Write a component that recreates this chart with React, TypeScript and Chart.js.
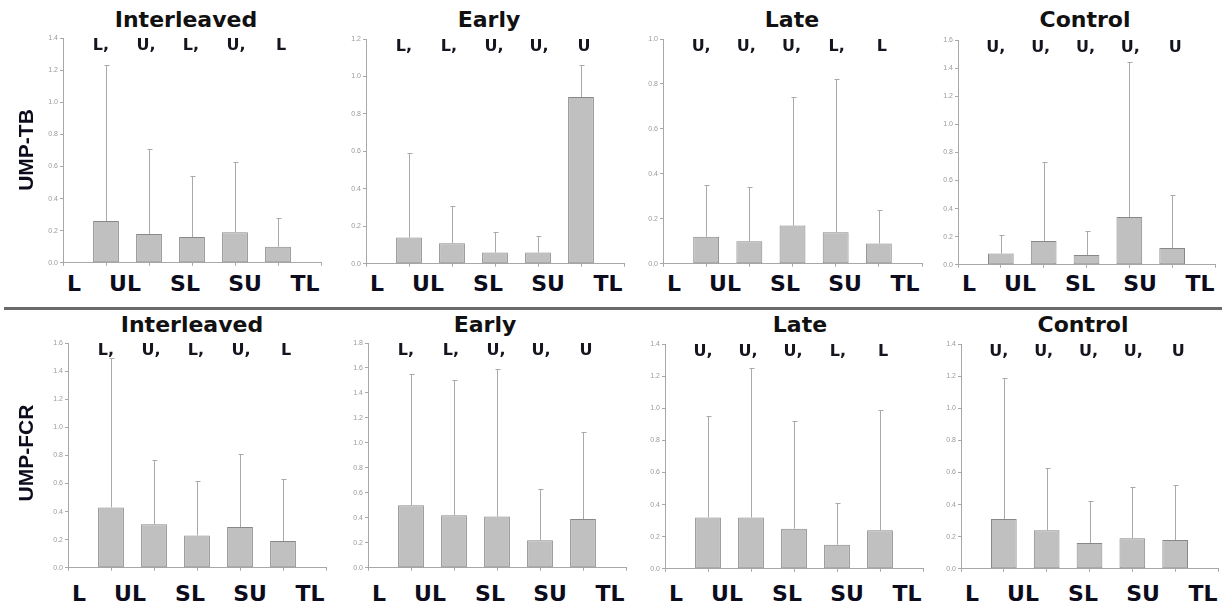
import React, { useEffect, useRef } from 'react';
import { Chart, registerables } from 'chart.js';

Chart.register(...registerables);

// ---------- data ----------
const categories = ['L', 'UL', 'SL', 'SU', 'TL'];
const groups = ['Interleaved', 'Early', 'Late', 'Control'];
const measures = ['UMP-TB', 'UMP-FCR'];

const tbInterleavedMean = [0.26, 0.18, 0.16, 0.19, 0.10];
const tbInterleavedUpper = [1.23, 0.71, 0.54, 0.63, 0.28];
const tbEarlyMean = [0.14, 0.11, 0.06, 0.06, 0.89];
const tbEarlyUpper = [0.59, 0.31, 0.17, 0.15, 1.06];
const tbLateMean = [0.12, 0.10, 0.17, 0.14, 0.09];
const tbLateUpper = [0.35, 0.34, 0.74, 0.82, 0.24];
const tbControlMean = [0.08, 0.17, 0.07, 0.34, 0.12];
const tbControlUpper = [0.21, 0.73, 0.24, 1.44, 0.50];

const fcrInterleavedMean = [0.43, 0.31, 0.23, 0.29, 0.19];
const fcrInterleavedUpper = [1.49, 0.77, 0.62, 0.81, 0.63];
const fcrEarlyMean = [0.50, 0.42, 0.41, 0.22, 0.39];
const fcrEarlyUpper = [1.55, 1.50, 1.59, 0.63, 1.09];
const fcrLateMean = [0.32, 0.32, 0.25, 0.15, 0.24];
const fcrLateUpper = [0.95, 1.25, 0.92, 0.41, 0.99];
const fcrControlMean = [0.31, 0.24, 0.16, 0.19, 0.18];
const fcrControlUpper = [1.19, 0.63, 0.42, 0.51, 0.52];

const interleavedMarks = ['L,', 'U,', 'L,', 'U,', 'L'];
const earlyMarks = ['L,', 'L,', 'U,', 'U,', 'U'];
const lateMarks = ['U,', 'U,', 'U,', 'L,', 'L'];
const controlMarks = ['U,', 'U,', 'U,', 'U,', 'U'];

const tbYMax = [1.4, 1.2, 1.0, 1.6];
const fcrYMax = [1.6, 1.8, 1.4, 1.4];

// ---------- layout (pixel geometry of each panel) ----------
// axisX, plotTop, plotBottom, plotRight, titleCx, titleCy, labelsCy
const panelLayout = [
  [63, 38, 263, 321, 186, 20, 284],
  [366, 39, 264, 624, 489, 20, 284],
  [663, 39, 264, 922, 792, 20, 284],
  [958, 40, 265, 1215, 1085, 20, 284],
  [68, 343, 568, 326, 192, 325, 594],
  [368, 343, 568, 626, 485, 325, 594],
  [665, 344, 569, 923, 800, 325, 594],
  [961, 344, 569, 1218, 1083, 325, 594],
];
const bottomLabelOffsets = [11, 62, 122, 182, 242];

const panelData = [
  { mean: tbInterleavedMean, upper: tbInterleavedUpper, marks: interleavedMarks, max: tbYMax[0], title: groups[0] },
  { mean: tbEarlyMean, upper: tbEarlyUpper, marks: earlyMarks, max: tbYMax[1], title: groups[1] },
  { mean: tbLateMean, upper: tbLateUpper, marks: lateMarks, max: tbYMax[2], title: groups[2] },
  { mean: tbControlMean, upper: tbControlUpper, marks: controlMarks, max: tbYMax[3], title: groups[3] },
  { mean: fcrInterleavedMean, upper: fcrInterleavedUpper, marks: interleavedMarks, max: fcrYMax[0], title: groups[0] },
  { mean: fcrEarlyMean, upper: fcrEarlyUpper, marks: earlyMarks, max: fcrYMax[1], title: groups[1] },
  { mean: fcrLateMean, upper: fcrLateUpper, marks: lateMarks, max: fcrYMax[2], title: groups[2] },
  { mean: fcrControlMean, upper: fcrControlUpper, marks: controlMarks, max: fcrYMax[3], title: groups[3] },
];

const Y_AXIS_W = 40;
const TOP_PAD = 30;
const X_AXIS_H = 6;
const RIGHT_PAD = 3;

function Panel({ idx }: { idx: number }) {
  const ref = useRef<HTMLCanvasElement | null>(null);
  const d = panelData[idx];
  const [axisX, plotTop, plotBottom, plotRight] = panelLayout[idx];
  const w = plotRight - axisX + Y_AXIS_W + RIGHT_PAD;
  const h = plotBottom - plotTop + TOP_PAD + X_AXIS_H;

  useEffect(() => {
    if (!ref.current) return;
    const extras = {
      id: 'extras',
      afterDatasetsDraw(chart: any) {
        const { ctx, chartArea, scales } = chart;
        const x = scales.x;
        const y = scales.y;
        const meta = chart.getDatasetMeta(0);
        ctx.save();
        ctx.strokeStyle = '#a9a9a9';
        ctx.lineWidth = 1;
        meta.data.forEach((bar: any, i: number) => {
          const px = Math.round(bar.x) + 0.5;
          const top = Math.round(y.getPixelForValue(d.upper[i])) + 0.5;
          ctx.beginPath();
          ctx.moveTo(px, bar.y);
          ctx.lineTo(px, top);
          ctx.moveTo(px - 2, top);
          ctx.lineTo(px + 3, top);
          ctx.stroke();
        });
        ctx.fillStyle = '#15151f';
        ctx.font = 'bold 16px "DejaVu Sans"';
        ctx.textAlign = 'center';
        ctx.textBaseline = 'middle';
        d.marks.forEach((m: string, i: number) => {
          const px = x.getPixelForValue(i + 1) + 2 * i - 5;
          ctx.fillText(m, px, chartArea.top + 8);
        });
        ctx.restore();
      },
    };
    const chart = new Chart(ref.current, {
      type: 'bar',
      data: {
        datasets: [
          {
            data: categories.map((c, i) => ({ x: i + 1, y: d.mean[i] })),
            backgroundColor: '#c0c0c0',
            borderColor: '#888888',
            borderWidth: 1,
            borderSkipped: false,
            barPercentage: 0.6,
            categoryPercentage: 1,
          },
        ],
      },
      options: {
        animation: false,
        responsive: false,
        maintainAspectRatio: false,
        devicePixelRatio: 1,
        layout: { padding: { top: TOP_PAD, right: RIGHT_PAD, left: 0, bottom: 0 } },
        plugins: { legend: { display: false }, tooltip: { enabled: false }, title: { display: false } },
        scales: {
          x: {
            type: 'linear',
            offset: false,
            min: 0,
            max: 6,
            ticks: { display: false, stepSize: 1 },
            grid: { drawOnChartArea: false, tickLength: 3, color: '#a8a8a8', offset: false },
            border: { display: true, color: '#a8a8a8' },
            afterFit: (s: any) => { s.height = X_AXIS_H; },
          },
          y: {
            min: 0,
            max: d.max,
            ticks: {
              stepSize: 0.2,
              font: { size: 7, family: '"Liberation Sans"' },
              color: '#9a9a9a',
              padding: 2,
              callback: (v: any) => Number(v).toFixed(1),
            },
            grid: { drawOnChartArea: false, tickLength: 3, color: '#a8a8a8' },
            border: { display: true, color: '#a8a8a8' },
            afterFit: (s: any) => { s.width = Y_AXIS_W; },
          },
        },
      },
      plugins: [extras],
    });
    return () => chart.destroy();
  }, [idx]);

  return (
    <canvas
      ref={ref}
      width={w}
      height={h}
      style={{ position: 'absolute', left: axisX - Y_AXIS_W, top: plotTop - TOP_PAD, width: w, height: h }}
    />
  );
}

const textCenter: React.CSSProperties = {
  position: 'absolute',
  transform: 'translate(-50%, -50%)',
  whiteSpace: 'nowrap',
  lineHeight: 1,
};

export default function App() {
  return (
    <div
      style={{
        position: 'fixed',
        left: 0,
        top: 0,
        width: 1222,
        height: 607,
        background: '#ffffff',
        overflow: 'hidden',
      }}
    >
      {panelData.map((d, i) => {
        const [axisX, , , , tcx, tcy, lcy] = panelLayout[i];
        return (
          <React.Fragment key={i}>
            <div
              style={{
                ...textCenter,
                left: tcx,
                top: tcy,
                fontFamily: '"DejaVu Sans"',
                fontWeight: 'bold',
                fontSize: 22,
                color: '#111',
              }}
            >
              {d.title}
            </div>
            {categories.map((c, j) => (
              <div
                key={c}
                style={{
                  ...textCenter,
                  left: axisX + bottomLabelOffsets[j],
                  top: lcy,
                  fontFamily: '"DejaVu Sans"',
                  fontWeight: 'bold',
                  fontSize: 22,
                  color: '#0c0c1c',
                }}
              >
                {c}
              </div>
            ))}
          </React.Fragment>
        );
      })}
      {panelData.map((d, i) => (
        <Panel key={'p' + i} idx={i} />
      ))}
      <div
        style={{
          ...textCenter,
          left: 25,
          top: 150,
          transform: 'translate(-50%, -50%) rotate(-90deg)',
          fontFamily: '"Liberation Sans"',
          fontWeight: 'bold',
          fontSize: 21,
          color: '#0c0c1c',
        }}
      >
        {measures[0]}
      </div>
      <div
        style={{
          ...textCenter,
          left: 25,
          top: 453,
          transform: 'translate(-50%, -50%) rotate(-90deg)',
          fontFamily: '"Liberation Sans"',
          fontWeight: 'bold',
          fontSize: 21,
          color: '#0c0c1c',
        }}
      >
        {measures[1]}
      </div>
      <div
        style={{ position: 'absolute', left: 4, top: 307, width: 1218, height: 3, background: '#6a6a6a' }}
      />
    </div>
  );
}
